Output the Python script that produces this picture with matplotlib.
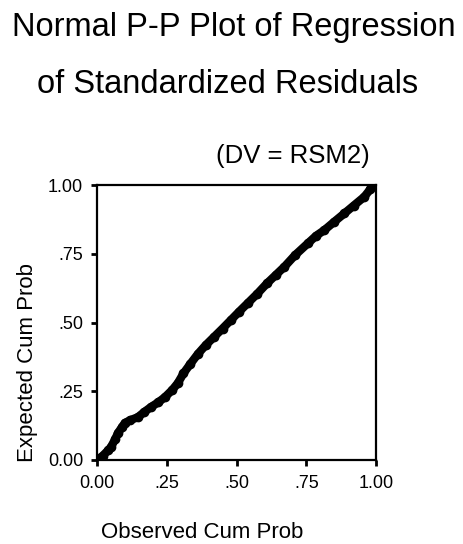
"""Normal P-P plot of regression standardized residuals."""

import matplotlib

matplotlib.use("Agg")
import matplotlib.pyplot as plt

# observed vs expected cumulative probability
observed = [0.00, 0.02, 0.04, 0.05, 0.065, 0.075, 0.09, 0.10, 0.12, 0.147,
            0.17, 0.194, 0.22, 0.244, 0.27, 0.29, 0.31, 0.335, 0.362, 0.39,
            0.42, 0.45, 0.48, 0.51, 0.54, 0.575, 0.61, 0.64, 0.672, 0.71,
            0.756, 0.785, 0.815, 0.85, 0.887, 0.92, 0.958, 0.98, 1.00]
expected = [0.00, 0.015, 0.035, 0.047, 0.075, 0.098, 0.12, 0.135, 0.145, 0.156,
            0.175, 0.193, 0.21, 0.229, 0.255, 0.28, 0.315, 0.35, 0.386, 0.418,
            0.448, 0.478, 0.509, 0.54, 0.57, 0.605, 0.643, 0.672, 0.703, 0.745,
            0.788, 0.815, 0.836, 0.866, 0.897, 0.925, 0.957, 0.985, 1.00]
tick_values = [0.0, 0.25, 0.5, 0.75, 1.0]
tick_labels = ["0.00", ".25", ".50", ".75", "1.00"]

plt.rcParams["font.family"] = ["Liberation Sans", "DejaVu Sans"]

W, H = 463, 544
fig = plt.figure(figsize=(W / 100, H / 100), dpi=100)
ax = fig.add_axes([97 / W, 84 / H, 279 / W, 275 / H])

ax.plot(observed, expected, color="black", lw=6, solid_capstyle="round",
        solid_joinstyle="round")
ax.plot(observed, expected, "o", color="black", ms=6, mfc="black", mec="black")

ax.set_xlim(0, 1)
ax.set_ylim(0, 1)
ax.set_xticks(tick_values, tick_labels)
ax.set_yticks(tick_values, tick_labels)
ax.tick_params(direction="out", length=4, width=2, labelsize=13, pad=6)
ax.tick_params(axis="x", pad=7)
for sp in ax.spines.values():
    sp.set_linewidth(1.6)
    sp.set_color("black")

fig.text(234 / W, 1 - 36 / H, "Normal P-P Plot of Regression", ha="center",
         va="baseline", fontsize=23.5)
fig.text(228 / W, 1 - 93 / H, "of Standardized Residuals", ha="center",
         va="baseline", fontsize=23.5)
fig.text(293 / W, 1 - 163 / H, "(DV = RSM2)", ha="center", va="baseline",
         fontsize=18.5)
fig.text(202 / W, 1 - 532 / H, "Observed Cum Prob", ha="center",
         va="center", fontsize=16)
fig.text(28 / W, 1 - 362 / H, "Expected Cum Prob", ha="center",
         va="center", rotation=90, fontsize=16)

fig.savefig("out.png", dpi=100)
